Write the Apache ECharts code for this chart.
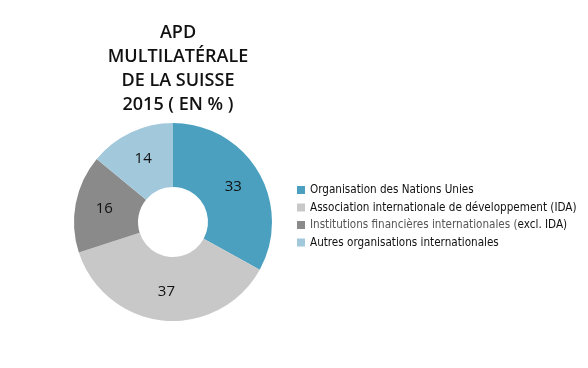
<!DOCTYPE html>
<html><head><meta charset="utf-8">
<script src="https://cdn.jsdelivr.net/npm/echarts@6/dist/echarts.min.js"></script>
<style>html,body{margin:0;padding:0;background:#fff}#c{width:588px;height:368px}</style>
</head><body><div id="c"></div>
<script>
const categories = ['Organisation des Nations Unies', 'Association internationale de développement (IDA)', 'Institutions financières internationales (excl. IDA)', 'Autres organisations internationales'];
const values = [33, 37, 16, 14];
const colors = ['#4ba0c0', '#c8c8c8', '#8a8a8a', '#a2c8dc'];
const titleText = 'APD\nMULTILATÉRALE\nDE LA SUISSE\n2015 ( EN % )';

const LF = '"DejaVu Sans Condensed", "Liberation Sans Narrow", Roboto, sans-serif';
const FS = 11.6;
const chart = echarts.init(document.getElementById('c'), null, {renderer: 'canvas'});
chart.setOption({
  animation: false,
  title: {
    text: titleText, left: 173, top: 16, textAlign: 'center',
    textStyle: {fontFamily: 'Open Sans', fontWeight: 600, fontSize: 18, lineHeight: 24, color: '#111', align: 'center'}
  },
  legend: {
    orient: 'vertical', left: 297, top: 184, padding: 0, itemWidth: 8, itemHeight: 8, itemGap: 5.5,
    icon: 'rect', itemStyle: {borderWidth: 0},
    formatter: function(n){ if (n.indexOf('(excl. IDA)')>=0) return '{g|Institutions financières internationales (}{b|excl. IDA)}'; return n; },
    textStyle: {fontFamily: LF, fontSize: FS, lineHeight: 12, color: '#111',
      rich: {g: {fontFamily: LF, fontSize: FS, color: '#555'}, b: {fontFamily: LF, fontSize: FS, color: '#111'}}}
  },
  series: [{
    type: 'pie', center: [173, 222], radius: [35, 99], startAngle: 90, clockwise: true,
    label: {show: true, position: 'inside', formatter: '{c}', fontFamily: 'Open Sans', fontSize: 15, color: '#111'},
    labelLine: {show: false},
    itemStyle: {borderWidth: 0},
    emphasis: {disabled: true},
    data: categories.map((c, i) => ({name: c, value: values[i], itemStyle: {color: colors[i]}}))
  }]
});
</script></body></html>
